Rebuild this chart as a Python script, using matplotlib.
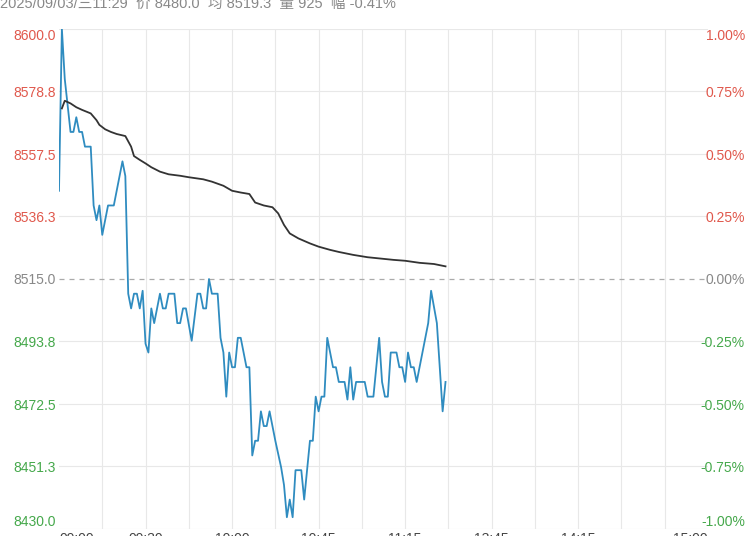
import matplotlib
matplotlib.use('Agg')
import matplotlib.pyplot as plt

plt.rcParams['font.family'] = ['Liberation Sans', 'Noto Sans CJK SC', 'DejaVu Sans']
plt.rcParams['axes.unicode_minus'] = False

# 交易分钟（09:00 起算，跳过休市）
price_min = [0, 1, 2, 3, 4, 5, 6, 7, 8, 9, 11, 12, 13, 14, 15, 17, 19, 22, 23, 24,
             25, 26, 27, 28, 29, 30, 31, 32, 33, 35, 36, 37, 38, 40, 41, 42, 43, 44, 46, 48,
             49, 50, 51, 52, 53, 55, 56, 57, 58, 59, 60, 61, 62, 63, 65, 66, 67, 68, 69, 70,
             71, 72, 73, 75, 77, 78, 79, 80, 81, 82, 84, 85, 87, 88, 89, 90, 91, 92, 93, 95,
             96, 97, 99, 100, 101, 102, 103, 106, 107, 109, 111, 112, 113, 114, 115, 117, 118, 119, 120, 121,
             122, 123, 124, 128, 129, 131, 133, 134]
price = [8545, 8600, 8583, 8574, 8565, 8565, 8570, 8565, 8565, 8560, 8560, 8540, 8535, 8540, 8530, 8540, 8540, 8555, 8550, 8510,
         8505, 8510, 8510, 8505, 8511, 8493, 8490, 8505, 8500, 8510, 8505, 8505, 8510, 8510, 8500, 8500, 8505, 8505, 8494, 8510,
         8510, 8505, 8505, 8515, 8510, 8510, 8495, 8490, 8475, 8490, 8485, 8485, 8495, 8495, 8485, 8485, 8455, 8460, 8460, 8470,
         8465, 8465, 8470, 8460, 8451, 8445, 8434, 8440, 8434, 8450, 8450, 8440, 8460, 8460, 8475, 8470, 8475, 8475, 8495, 8485,
         8485, 8480, 8480, 8474, 8485, 8474, 8480, 8480, 8475, 8475, 8495, 8480, 8475, 8475, 8490, 8490, 8485, 8485, 8480, 8490,
         8485, 8485, 8480, 8500, 8511, 8500, 8470, 8480]

avg_min = [1, 2, 4, 6, 8, 11, 13, 14, 16, 18, 20, 23, 25, 26, 28, 30, 32, 35, 38, 42,
           45, 50, 53, 57, 60, 63, 66, 68, 71, 74, 76, 78, 80, 83, 87, 90, 94, 97, 102, 107,
           111, 116, 120, 125, 130, 134]
avg_price = [8573.0, 8575.6, 8574.7, 8573.4, 8572.5, 8571.3, 8569.0, 8567.4, 8565.9, 8565.0,
             8564.3, 8563.6, 8560.0, 8556.8, 8555.5, 8554.3, 8553.0, 8551.5, 8550.6, 8550.1,
             8549.6, 8548.9, 8548.1, 8546.7, 8545.0, 8544.4, 8543.9, 8541.0, 8540.0, 8539.4,
             8537.3, 8533.4, 8530.5, 8528.8, 8527.1, 8526.0, 8524.9, 8524.2, 8523.2, 8522.4,
             8522.0, 8521.5, 8521.2, 8520.5, 8520.1, 8519.3]

pre_close = 8515.0
y_ticks = [8600.0, 8578.8, 8557.5, 8536.3, 8515.0, 8493.8, 8472.5, 8451.3, 8430.0]
pct_labels = ['1.00%', '0.75%', '0.50%', '0.25%', '0.00%', '-0.25%', '-0.50%', '-0.75%', '-1.00%']
x_ticks = [0, 30, 60, 90, 120, 150, 180, 225]
x_labels = ['09:00', '09:30', '10:00', '10:45', '11:15', '13:45', '14:15', '15:00']

header = '2025/09/03/三11:29  价 8480.0  均 8519.3  量 925  幅 -0.41%'

RED = '#e0584c'
GREEN = '#45a84b'
GRAY = '#888888'

fig = plt.figure(figsize=(7.5, 5.36), dpi=100)
ax = fig.add_axes([59 / 750, 7 / 536, 649 / 750, 500 / 536])

# 网格
for m in range(15, 225, 15):
    ax.axvline(m, color='#e8e8e8', lw=0.8, zorder=0)
for v in y_ticks:
    if v != pre_close:
        ax.axhline(v, color='#e8e8e8', lw=0.8, zorder=0)
ax.axhline(pre_close, color='#aaaaaa', lw=0.9, ls=(0, (4, 4)), zorder=1)

ax.plot(price_min, price, color='#2f8cc0', lw=1.3, zorder=3)
ax.plot(avg_min, avg_price, color='#333333', lw=1.3, zorder=4)

ax.set_xlim(0, 225)
ax.set_ylim(8430, 8600)
for s in ax.spines.values():
    s.set_visible(False)

# 左侧价格刻度
ax.set_yticks(y_ticks)
ax.set_yticklabels([f'{v:.1f}' for v in y_ticks], fontsize=10)
ax.tick_params(axis='y', length=0, pad=2)
for lab, v in zip(ax.get_yticklabels(), y_ticks):
    lab.set_color(RED if v > pre_close else (GREEN if v < pre_close else GRAY))
labs = ax.get_yticklabels()
labs[0].set_va('top')
labs[-1].set_va('bottom')

# 右侧涨跌幅刻度
ax2 = ax.twinx()
ax2.set_ylim(8430, 8600)
for s in ax2.spines.values():
    s.set_visible(False)
ax2.set_yticks(y_ticks)
ax2.set_yticklabels(pct_labels, fontsize=10)
ax2.tick_params(axis='y', length=0, pad=26.5)
for lab, v in zip(ax2.get_yticklabels(), y_ticks):
    lab.set_ha('right')
    lab.set_color(RED if v > pre_close else (GREEN if v < pre_close else GRAY))
labs2 = ax2.get_yticklabels()
labs2[0].set_va('top')
labs2[-1].set_va('bottom')

# 时间轴
ax.set_xticks(x_ticks)
ax.set_xticklabels(x_labels, fontsize=10, color='#444444')
ax.tick_params(axis='x', length=0, pad=2.5)
xl = ax.get_xticklabels()
xl[0].set_ha('left')
xl[-1].set_ha('right')

fig.text(0, 528 / 536, header, fontsize=10.5, color=GRAY, va='baseline', ha='left')

fig.savefig('out.png', dpi=100)
